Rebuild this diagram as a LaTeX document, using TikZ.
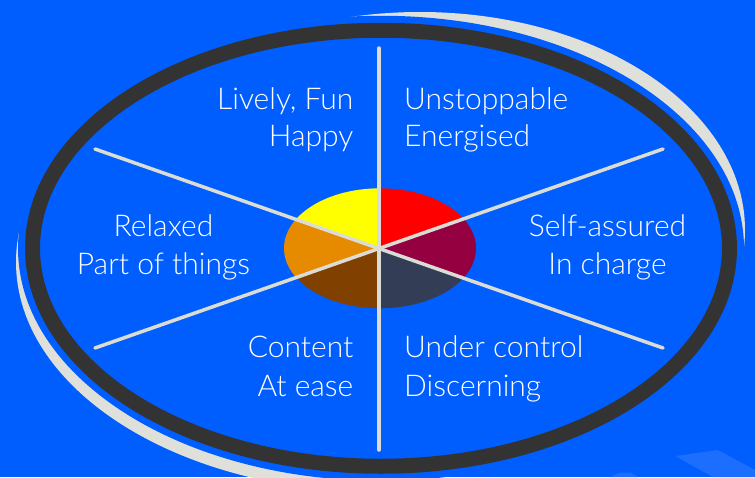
\documentclass[tikz,border=0pt]{standalone}
\usepackage{fontspec}
\setmainfont{Lato}[UprightFont=* Light]

\definecolor{bg}{RGB}{0,94,255}
\definecolor{bgpale}{RGB}{28,110,255}
\definecolor{swoosh}{RGB}{224,224,218}
\definecolor{rim}{RGB}{51,51,51}
\definecolor{spokegrey}{RGB}{220,220,214}
\definecolor{segyellow}{RGB}{255,255,0}
\definecolor{segred}{RGB}{255,0,0}
\definecolor{segmaroon}{RGB}{148,0,64}
\definecolor{segslate}{RGB}{51,61,85}
\definecolor{segbrown}{RGB}{128,64,0}
\definecolor{segorange}{RGB}{230,138,0}

\begin{document}
\begin{tikzpicture}[x=1pt,y=-1pt,
  moodtext/.style={text=white,font=\fontsize{30}{36}\selectfont,inner sep=0pt},
  spokeline/.style={draw=spokegrey,line width=3.5pt,line cap=round}]
\useasboundingbox (0,0) rectangle (755,477);
\fill[bg] (0,0) rectangle (755,477);

% pale blue facets in the lower right corner
\fill[bgpale] (675,456) -- (718,450) -- (755,470) -- (755,477) -- (713,477) -- cycle;
\fill[bgpale] (610,477) -- (620,472.5) -- (630,472.5) -- (638,477) -- cycle;

% grey swooshes behind the rim
\begin{scope}
  \clip (0,0) rectangle (340,477);
  \fill[swoosh] (378,262) ellipse [x radius=362, y radius=230];
\end{scope}
\fill[swoosh] (420,230) ellipse [x radius=325, y radius=218];

% blue gap and dark rim
\fill[bg] (381,248.25) ellipse [x radius=363, y radius=232.5];
\draw[rim,line width=15pt] (381,248.25) ellipse [x radius=348.5, y radius=218];

% hub and spoke ends
\coordinate (hub) at (379,248.3);
\coordinate (nTop) at (379,48);
\coordinate (nBot) at (379,450);
\coordinate (nUL) at (95,149);
\coordinate (nUR) at (663,149);
\coordinate (nLL) at (95,348);
\coordinate (nLR) at (663,348);

% coloured centre disc
\begin{scope}
  \clip (380,248.3) ellipse [x radius=96, y radius=60];
  \fill[segyellow] (hub) -- (hub |- nUL) -- (nUL) -- cycle;
  \fill[segred]    (hub) -- (hub |- nUR) -- (nUR) -- cycle;
  \fill[segmaroon] (hub) -- (nUR) -- (nLR) -- cycle;
  \fill[segslate]  (hub) -- (nLR) -- (hub |- nLR) -- cycle;
  \fill[segbrown]  (hub) -- (hub |- nLL) -- (nLL) -- cycle;
  \fill[segorange] (hub) -- (nLL) -- (nUL) -- cycle;
\end{scope}

% spokes
\draw[spokeline] (nTop) -- (nBot);
\draw[spokeline] (nUL) -- (nLR);
\draw[spokeline] (nUR) -- (nLL);

% labels
\node[moodtext,anchor=base east] (livelyA) at (353.5,109.3) {Lively, Fun};
\node[moodtext,anchor=base east] (livelyB) at (353.5,146) {Happy};
\node[moodtext,anchor=base west] (energyA) at (404,109.3) {Unstoppable};
\node[moodtext,anchor=base west] (energyB) at (404,146) {Energised};
\node[moodtext,anchor=base] (relaxA) at (163.5,236.7) {Relaxed};
\node[moodtext,anchor=base] (relaxB) at (163.5,274) {Part of things};
\node[moodtext,anchor=base] (assureA) at (607.5,236.7) {Self-assured};
\node[moodtext,anchor=base] (assureB) at (607.5,274) {In charge};
\node[moodtext,anchor=base east] (contentA) at (353.5,357.7) {Content};
\node[moodtext,anchor=base east] (contentB) at (353.5,396) {At ease};
\node[moodtext,anchor=base west] (controlA) at (404,357.7) {Under control};
\node[moodtext,anchor=base west] (controlB) at (404,396) {Discerning};
\end{tikzpicture}
\end{document}
